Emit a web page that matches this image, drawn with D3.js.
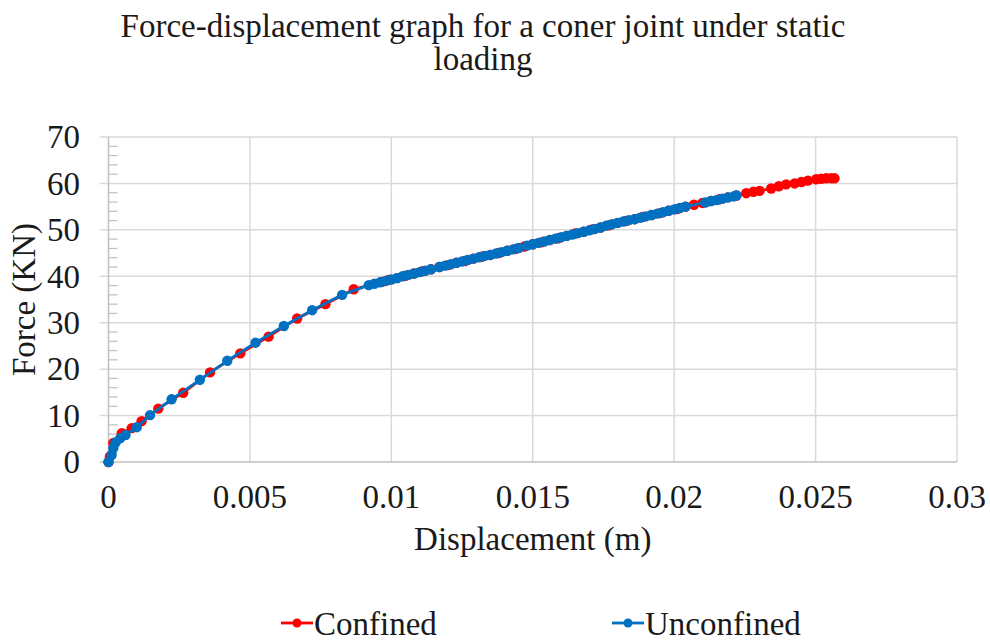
<!DOCTYPE html>
<html>
<head>
<meta charset="utf-8">
<script src="https://cdn.jsdelivr.net/npm/d3@7"></script>
<style>
  body { margin: 0; background: #fff; }
  text { font-family: "Liberation Serif", "Times New Roman", serif; fill: #1a1a1a; }
</style>
</head>
<body>
<svg id="chart" width="990" height="642"></svg>
<script>
const TITLE_LINES = ["Force-displacement graph for a coner joint under static", "loading"];
const X_LABEL = "Displacement (m)";
const Y_LABEL = "Force (KN)";
const X_TICKS = [0, 0.005, 0.01, 0.015, 0.02, 0.025, 0.03];
const X_TICK_LABELS = ["0", "0.005", "0.01", "0.015", "0.02", "0.025", "0.03"];
const Y_TICKS = [0, 10, 20, 30, 40, 50, 60, 70];
const SERIES_NAMES = ["Confined", "Unconfined"];

// Confined (red)
const CONFINED_X = [
  0, 0.00005, 0.00017, 0.00047, 0.00082, 0.00117, 0.00176, 0.00264, 0.00359, 0.00466,
  0.00566, 0.00667, 0.00767, 0.00867, 0.00967, 0.0099, 0.0102, 0.0105, 0.0108, 0.0111,
  0.0114, 0.0117, 0.012, 0.0123, 0.0126, 0.0129, 0.0132, 0.0135, 0.0138, 0.0141,
  0.0144, 0.0147, 0.015, 0.0153, 0.0156, 0.0159, 0.0162, 0.0165, 0.0168, 0.0171,
  0.0174, 0.0177, 0.018, 0.0183, 0.0186, 0.0189, 0.0192, 0.0195, 0.0198, 0.0201,
  0.0204, 0.0207, 0.021, 0.0213, 0.0216, 0.0219, 0.0222, 0.02255, 0.0228, 0.02302,
  0.02343, 0.0237, 0.02396, 0.02426, 0.0245, 0.02473, 0.02502, 0.0252, 0.02538, 0.02555,
  0.02567
];
const CONFINED_Y = [
  0, 1.2, 4.1, 6.2, 7.3, 8.8, 11.5, 14.9, 19.3, 23.4,
  27.0, 30.9, 34.0, 37.2, 38.8, 39.2, 39.6, 40.1, 40.6, 41.1,
  41.5, 42.0, 42.4, 42.9, 43.3, 43.8, 44.2, 44.6, 45.0, 45.5,
  45.9, 46.4, 46.9, 47.3, 47.8, 48.2, 48.7, 49.2, 49.6, 50.1,
  50.5, 51.0, 51.5, 51.9, 52.3, 52.8, 53.2, 53.6, 54.1, 54.5,
  55.0, 55.4, 55.8, 56.2, 56.6, 57.0, 57.4, 57.9, 58.2, 58.4,
  58.9, 59.4, 59.8, 60.0, 60.3, 60.6, 60.9, 61.0, 61.1, 61.1,
  61.1
];

// Unconfined (blue)
const UNCONFINED_X = [
  0, 0.00011, 0.00017, 0.00025, 0.00041, 0.0006, 0.001, 0.00147, 0.00223, 0.00323,
  0.0042, 0.0052, 0.0062, 0.0072, 0.00826, 0.0092, 0.0094, 0.0096, 0.0098, 0.01,
  0.0102, 0.0104, 0.0106, 0.0108, 0.011, 0.0112, 0.0114, 0.0117, 0.0119, 0.0121,
  0.0123, 0.0125, 0.0127, 0.0129, 0.0131, 0.0133, 0.0135, 0.0137, 0.0139, 0.0141,
  0.0143, 0.0145, 0.0148, 0.015, 0.0152, 0.0154, 0.0156, 0.0158, 0.016, 0.0162,
  0.0164, 0.0166, 0.0168, 0.017, 0.0172, 0.0174, 0.0176, 0.0178, 0.018, 0.0182,
  0.0184, 0.0186, 0.0188, 0.019, 0.0192, 0.0194, 0.0196, 0.0198, 0.02, 0.0202,
  0.0204, 0.0211, 0.0213, 0.0215, 0.0217, 0.0219, 0.0221, 0.0222
];
const UNCONFINED_Y = [
  0, 1.5, 3.0, 4.2, 5.1, 5.8, 7.5, 10.1, 13.5, 17.7,
  21.8, 25.7, 29.3, 32.7, 36.0, 38.1, 38.4, 38.7, 39.0, 39.3,
  39.6, 40.0, 40.3, 40.6, 40.9, 41.2, 41.5, 42.0, 42.3, 42.6,
  42.9, 43.2, 43.5, 43.8, 44.1, 44.4, 44.6, 44.9, 45.2, 45.5,
  45.8, 46.1, 46.6, 46.9, 47.2, 47.5, 47.8, 48.1, 48.4, 48.7,
  49.0, 49.3, 49.6, 49.9, 50.2, 50.5, 50.9, 51.2, 51.5, 51.8,
  52.1, 52.3, 52.6, 52.9, 53.2, 53.5, 53.8, 54.1, 54.4, 54.7,
  55.0, 55.9, 56.2, 56.4, 56.7, 57.0, 57.2, 57.4
];

const COLORS = ["#ff0000", "#0070c0"];

const PARAMS = {
  LEFT: 108.5, RIGHT: 957, TOP: 137, BOTTOM: 462,
  FONT: 33, MARKER: 5.2
};
PARAMS.X_SCALE = d3.scaleLinear().domain([0, 0.03]).range([PARAMS.LEFT, PARAMS.RIGHT]);
PARAMS.Y_SCALE = d3.scaleLinear().domain([0, 70]).range([PARAMS.BOTTOM, PARAMS.TOP]);

const seriesData = [
  { name: SERIES_NAMES[0], color: COLORS[0], points: CONFINED_X.map((x, i) => ({ x, y: CONFINED_Y[i] })) },
  { name: SERIES_NAMES[1], color: COLORS[1], points: UNCONFINED_X.map((x, i) => ({ x, y: UNCONFINED_Y[i] })) }
];

function createGrid(chart, params) {
  chart.append("g")
    .selectAll("line")
    .data(Y_TICKS.slice(1))
    .enter()
    .append("line")
    .attr("x1", params.LEFT - 9)
    .attr("x2", params.RIGHT)
    .attr("y1", d => params.Y_SCALE(d))
    .attr("y2", d => params.Y_SCALE(d))
    .attr("stroke", "#d9d9d9")
    .attr("stroke-width", 1.5);

  chart.append("g")
    .selectAll("line")
    .data(X_TICKS.slice(1))
    .enter()
    .append("line")
    .attr("x1", d => params.X_SCALE(d))
    .attr("x2", d => params.X_SCALE(d))
    .attr("y1", params.TOP)
    .attr("y2", params.BOTTOM)
    .attr("stroke", "#d9d9d9")
    .attr("stroke-width", 1.5);
}

function createAxes(chart, params) {
  const minor = d3.range(0, 70, 2).filter(v => v % 10 !== 0);

  // y axis line with outside major ticks and inside minor ticks
  const Y_AXIS = chart.append("g");
  Y_AXIS.append("line")
    .attr("x1", params.LEFT).attr("x2", params.LEFT)
    .attr("y1", params.TOP).attr("y2", params.BOTTOM)
    .attr("stroke", "#bfbfbf").attr("stroke-width", 1.5);
  Y_AXIS.selectAll(".minor")
    .data(minor)
    .enter()
    .append("line")
    .classed("minor", true)
    .attr("x1", params.LEFT).attr("x2", params.LEFT + 9)
    .attr("y1", d => params.Y_SCALE(d)).attr("y2", d => params.Y_SCALE(d))
    .attr("stroke", "#bfbfbf").attr("stroke-width", 1.2);

  chart.append("line")
    .attr("x1", params.LEFT - 9).attr("x2", params.RIGHT)
    .attr("y1", params.BOTTOM).attr("y2", params.BOTTOM)
    .attr("stroke", "#bfbfbf").attr("stroke-width", 1.5);

  chart.append("g")
    .selectAll("text")
    .data(Y_TICKS)
    .enter()
    .append("text")
    .text(d => d)
    .attr("x", 80)
    .attr("y", d => params.Y_SCALE(d))
    .attr("dy", "0.34em")
    .attr("text-anchor", "end")
    .style("font-size", params.FONT + "px");

  chart.append("g")
    .selectAll("text")
    .data(X_TICKS)
    .enter()
    .append("text")
    .text((d, i) => X_TICK_LABELS[i])
    .attr("x", d => params.X_SCALE(d))
    .attr("y", params.BOTTOM + 46)
    .attr("text-anchor", "middle")
    .style("font-size", params.FONT + "px");

  chart.append("text")
    .text(X_LABEL)
    .attr("x", (params.LEFT + params.RIGHT) / 2)
    .attr("y", 550)
    .attr("text-anchor", "middle")
    .style("font-size", params.FONT + "px");

  chart.append("text")
    .text(Y_LABEL)
    .attr("transform", `translate(35, ${(params.TOP + params.BOTTOM) / 2}) rotate(-90)`)
    .attr("text-anchor", "middle")
    .style("font-size", params.FONT + "px");
}

function createTitle(chart, params) {
  chart.append("g")
    .selectAll("text")
    .data(TITLE_LINES)
    .enter()
    .append("text")
    .text(d => d)
    .attr("x", 483)
    .attr("y", (d, i) => 37 + i * 33)
    .attr("text-anchor", "middle")
    .style("font-size", params.FONT + "px");
}

function createSeries(chart, data, params) {
  const line = d3.line()
    .x(d => params.X_SCALE(d.x))
    .y(d => params.Y_SCALE(d.y));

  const groups = chart.selectAll(".series")
    .data(data)
    .enter()
    .append("g")
    .classed("series", true);

  groups.append("path")
    .attr("d", d => line(d.points))
    .attr("fill", "none")
    .attr("stroke", d => d.color)
    .attr("stroke-width", 2.8)
    .attr("stroke-linejoin", "round");

  groups.selectAll("circle")
    .data(d => d.points.map(p => ({ ...p, color: d.color })))
    .enter()
    .append("circle")
    .attr("cx", d => params.X_SCALE(d.x))
    .attr("cy", d => params.Y_SCALE(d.y))
    .attr("r", params.MARKER)
    .attr("fill", d => d.color);
}

function createLegend(chart, data, params) {
  const LEGEND_X = [281, 612];
  const items = chart.selectAll(".legend")
    .data(data)
    .enter()
    .append("g")
    .classed("legend", true)
    .attr("transform", (d, i) => `translate(${LEGEND_X[i]}, 623)`);

  items.append("line")
    .attr("x1", 0).attr("x2", 32)
    .attr("stroke", d => d.color)
    .attr("stroke-width", 2.8);
  items.append("circle")
    .attr("cx", 16).attr("r", 4.5)
    .attr("fill", d => d.color);
  items.append("text")
    .text(d => d.name)
    .attr("x", 33)
    .attr("dy", "0.35em")
    .style("font-size", params.FONT + "px");
}

function renderChart(chart, data, params) {
  createGrid(chart, params);
  createAxes(chart, params);
  createTitle(chart, params);
  createSeries(chart, data, params);
  createLegend(chart, data, params);
}

renderChart(d3.select("#chart"), seriesData, PARAMS);
</script>
</body>
</html>
